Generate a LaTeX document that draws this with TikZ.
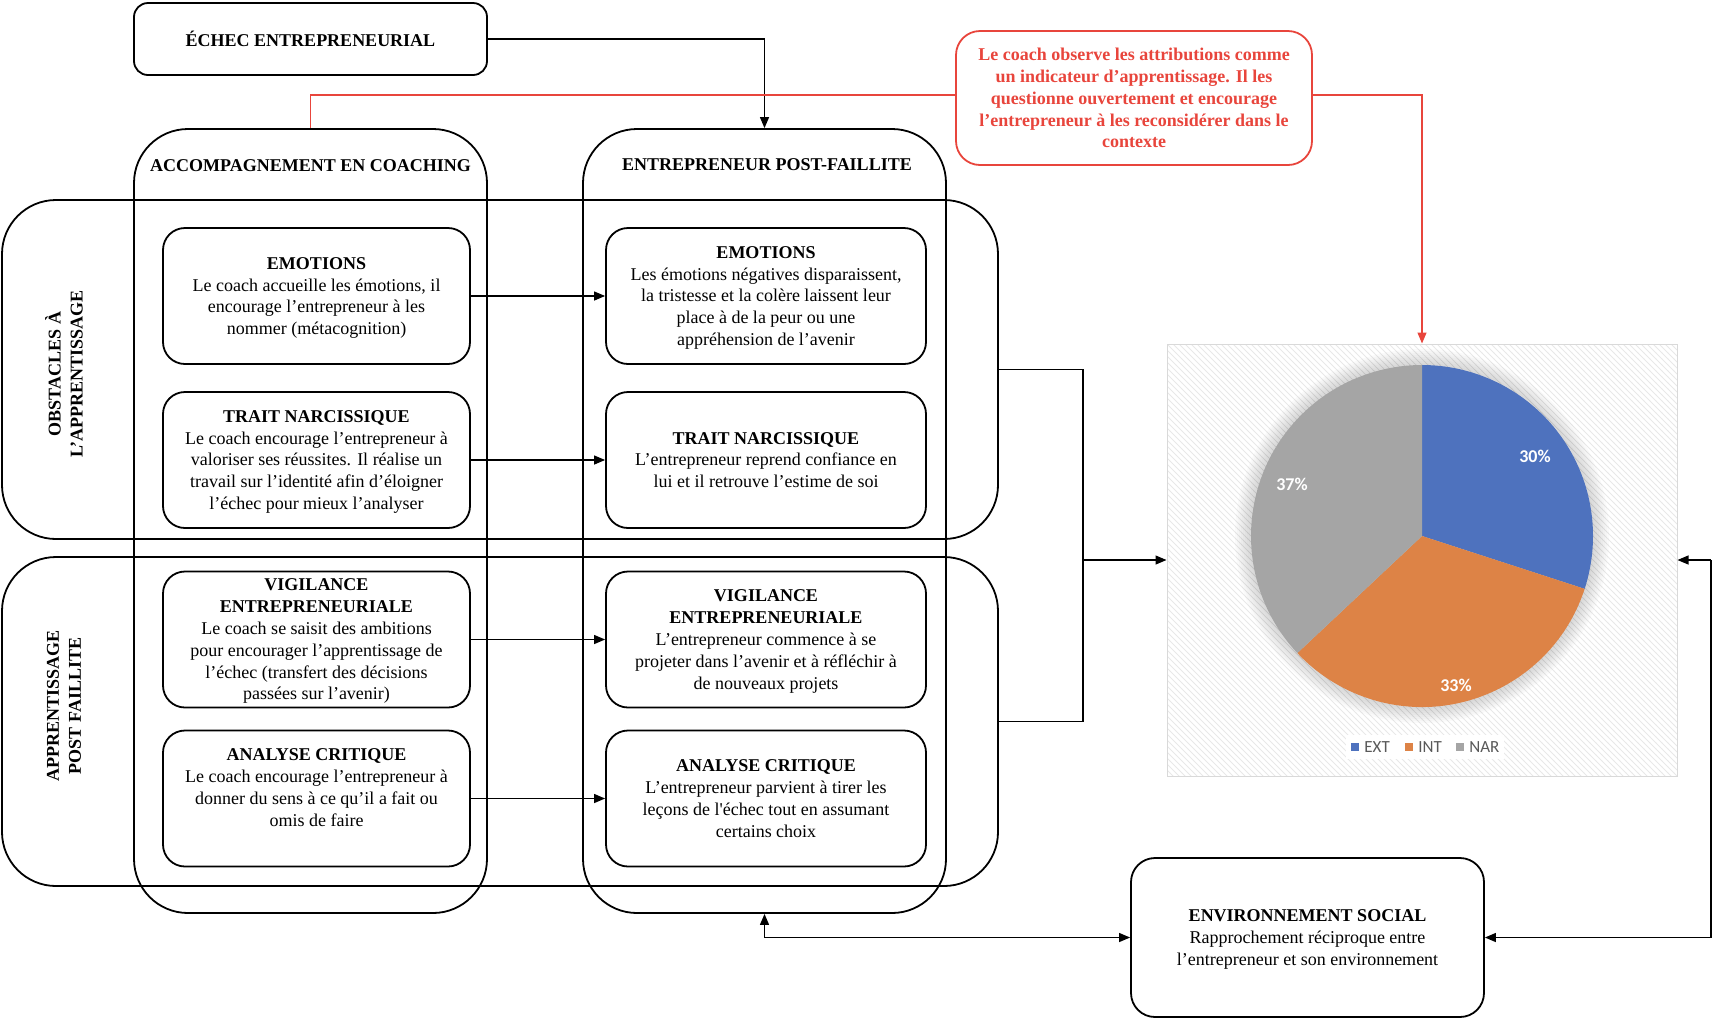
\documentclass[tikz,border=0pt]{standalone}
\usepackage{fontspec}
\setmainfont{Liberation Serif}
\newfontfamily\chartfont{Carlito}
\usetikzlibrary{positioning}
\usetikzlibrary{fit}
\usetikzlibrary{arrows.meta}
\usetikzlibrary{patterns}
\definecolor{attribred}{HTML}{E8453C}
\definecolor{extblue}{HTML}{4E72BE}
\definecolor{intorange}{HTML}{DD8346}
\definecolor{nargray}{HTML}{A5A5A5}
\definecolor{legendgray}{HTML}{595959}
\tikzset{
	>={Triangle[length=5.5pt,width=4.5pt]},
	every node/.style={font=\fontsize{9}{10.9}\selectfont, align=center},
	frame/.style={draw, line width=0.9pt, rounded corners=27pt, inner sep=0pt},
	inbox/.style={draw, line width=0.9pt, rounded corners=11pt, minimum height=68pt, inner sep=1pt, text depth=-4pt},
	lft/.style={inbox, minimum width=153.5pt},
	rgt/.style={inbox, minimum width=160pt},
	topbox/.style={draw, line width=0.9pt, rounded corners=12pt, text depth=-2pt},
	hdr/.style={font=\fontsize{9}{10.9}\selectfont\bfseries},
	side/.style={rotate=90, font=\fontsize{9}{10.9}\selectfont\bfseries},
	link/.style={line width=0.6pt},
	attrib/.style={link, draw=attribred},
	pct/.style={text=white, font=\chartfont\fontsize{9}{10}\selectfont\bfseries},
	leg/.style={text=legendgray, font=\chartfont\fontsize{8.5}{10}\selectfont, anchor=west, inner sep=0pt}
}

\begin{document}
\begin{tikzpicture}[x=0.5pt, y=-0.5pt]
	\useasboundingbox (0,0) rectangle (1713,1019);

	% colonnes et lignes
	\node (coach) [frame, fit={(134,129) (487,913)}] {};
	\node (post) [frame, fit={(583,129) (946,913)}] {};
	\node (obst) [frame, fit={(2,200) (998,539)}] {};
	\node (appr) [frame, fit={(2,557) (998,886)}] {};

	\node (hdrA) [hdr] at (310.5,166) {ACCOMPAGNEMENT EN COACHING};
	\node (hdrB) [hdr] at (767,165) {ENTREPRENEUR POST-FAILLITE};
	\node (obstL) [side] at (64,374) {OBSTACLES À\\L’APPRENTISSAGE};
	\node (apprL) [side] at (64,706) {APPRENTISSAGE\\POST FAILLITE};

	% coaching
	\node (cEmo) [lft] at (316.5,296) {\textbf{EMOTIONS}\\Le coach accueille les émotions, il\\encourage l’entrepreneur à les\\nommer (métacognition)};
	\node (cNar) [lft] at (316.5,460) {\textbf{TRAIT NARCISSIQUE}\\Le coach encourage l’entrepreneur à\\valoriser ses réussites. Il réalise un\\travail sur l’identité afin d’éloigner\\l’échec pour mieux l’analyser};
	\node (cVig) [lft] at (316.5,639.5) {\textbf{VIGILANCE}\\\textbf{ENTREPRENEURIALE}\\Le coach se saisit des ambitions\\pour encourager l’apprentissage de\\l’échec (transfert des décisions\\passées sur l’avenir)};
	\node (cAna) [lft] at (316.5,798.5) {\textbf{ANALYSE CRITIQUE}\\Le coach encourage l’entrepreneur à\\donner du sens à ce qu’il a fait ou\\omis de faire\\\mbox{}};

	% entrepreneur
	\node (pEmo) [rgt] at (766,296) {\textbf{EMOTIONS}\\Les émotions négatives disparaissent,\\la tristesse et la colère laissent leur\\place à de la peur ou une\\appréhension de l’avenir};
	\node (pNar) [rgt, text depth=-2pt] at (766,460) {\textbf{TRAIT NARCISSIQUE}\\L’entrepreneur reprend confiance en\\lui et il retrouve l’estime de soi};
	\node (pVig) [rgt] at (766,639.5) {\textbf{VIGILANCE}\\\textbf{ENTREPRENEURIALE}\\L’entrepreneur commence à se\\projeter dans l’avenir et à réfléchir à\\de nouveaux projets};
	\node (pAna) [rgt, text depth=-2pt] at (766,798.5) {\textbf{ANALYSE CRITIQUE}\\L’entrepreneur parvient à tirer les\\leçons de l\textquotesingle échec tout en assumant\\certains choix};

	\node (echec) [topbox, rounded corners=7pt, minimum width=176.5pt, minimum height=36pt, text depth=0pt, hdr] at (310.5,39) {ÉCHEC ENTREPRENEURIAL};
	\node (attrib) [topbox, draw=attribred, text=attribred, minimum width=178pt, minimum height=67pt, text depth=-7pt, hdr] at (1134,98) {Le coach observe les attributions comme\\un indicateur d’apprentissage. Il les\\questionne ouvertement et encourage\\l’entrepreneur à les reconsidérer dans le\\contexte};
	\node (env) [topbox, minimum width=176.5pt, minimum height=79.5pt] at (1307.5,937.5) {\textbf{ENVIRONNEMENT SOCIAL}\\Rapprochement réciproque entre\\l’entrepreneur et son environnement};

	% graphique
	\node (chart) [draw=gray!30, line width=0.5pt, pattern=north west lines, pattern color=gray!18, fit={(1167,344) (1677,776)}, inner sep=0pt] {};
	\begin{scope}[shift={(1422,536)}, x=1pt, y=1pt]
		\foreach \g in {1,...,8}
			\fill[black, opacity=0.02] (0,0) circle (85.5+\g);
		\fill[extblue] (0,0) -- (90:85.5) arc[start angle=90, end angle=-18, radius=85.5] -- cycle;
		\fill[intorange] (0,0) -- (-18:85.5) arc[start angle=-18, end angle=-136.8, radius=85.5] -- cycle;
		\fill[nargray] (0,0) -- (-136.8:85.5) arc[start angle=-136.8, end angle=-270, radius=85.5] -- cycle;
		\node (ext) [pct] at (56.5,40) {30\%};
		\node (int) [pct] at (17,-74.5) {33\%};
		\node (nar) [pct] at (-65,26) {37\%};
	\end{scope}
	\fill[white] (1346,735) rectangle (1504,759);
	\fill[extblue] (1351,743) rectangle (1359,751);
	\node (legExt) [leg] at (1364,747.5) {EXT};
	\fill[intorange] (1405,743) rectangle (1413,751);
	\node (legInt) [leg] at (1418,747.5) {INT};
	\fill[nargray] (1456,743) rectangle (1464,751);
	\node (legNar) [leg] at (1469,747.5) {NAR};

	% liens
	\foreach \a/\b in {cEmo/pEmo, cNar/pNar, cVig/pVig, cAna/pAna}
		\path[link] (\a) edge[->] (\b);
	\draw[link, ->] (echec.east) -| (post.north);
	\draw[attrib] (coach.north) |- ([yshift=1.5pt]attrib.west);
	\draw[attrib, ->] ([yshift=1.5pt]attrib.east) -| (chart.north);
	\coordinate (join) at (1083,560);
	\draw[link] (obst.east) -| (join);
	\draw[link] (appr.east) -| (join);
	\draw[link, ->] (join) -- (chart.west);
	\coordinate (edge) at (1711,560);
	\draw[link, ->] (edge) -- (chart.east);
	\draw[link, ->] (edge) |- (env.east);
	\draw[link, <->] (env.west) -| (post.south);
\end{tikzpicture}
\end{document}
